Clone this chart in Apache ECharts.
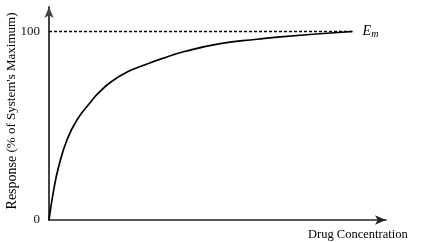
<!DOCTYPE html>
<html>
<head>
<meta charset="utf-8">
<script src="https://cdn.jsdelivr.net/npm/echarts@6/dist/echarts.min.js"></script>
<style>
html,body{margin:0;padding:0;background:#fff;}
#c{width:432px;height:242px;}
</style>
</head>
<body>
<div id="c"></div>
<script>
// Drug concentration (relative units) and response (% of system max)
const concentration = [0, 1.55, 3.2, 5.94, 9.24, 13.6, 16.3, 20.7, 26.2, 31.7, 37.2, 44.9, 56.4, 68.5, 76.2, 100];
const response = [0, 16, 28.4, 42.6, 53.2, 62.3, 67.4, 73.6, 78.9, 82.4, 85.6, 89.5, 93.6, 95.9, 97.2, 100];
const maxLine = [[0, 100], [100, 100]];
const yTickLabels = [0, 100];
const xAxisTitle = 'Drug Concentration';
const yAxisTitleMain = 'Response';
const yAxisTitleSub = "(% of System's Maximum)";

const serif = '"Liberation Serif", "DejaVu Serif", serif';
const chart = echarts.init(document.getElementById('c'), null, {renderer: 'canvas'});
chart.setOption({
  animation: false,
  backgroundColor: '#fff',
  grid: {left: 49, right: 46, top: 7, bottom: 22, containLabel: false},
  xAxis: {
    type: 'value', min: 0, max: 111,
    axisLine: {show: true, lineStyle: {color: '#222', width: 1.6}, symbol: ['none', 'arrow'], symbolSize: [7, 11]},
    axisTick: {show: false}, axisLabel: {show: false}, splitLine: {show: false}
  },
  yAxis: {
    type: 'value', min: 0, max: 113, interval: 100,
    axisLine: {show: true, lineStyle: {color: '#444', width: 2}, symbol: ['none', 'arrow'], symbolSize: [7, 11]},
    axisTick: {show: false}, splitLine: {show: false},
    axisLabel: {
      color: '#111', fontFamily: serif, fontSize: 13, margin: 9,
      formatter: v => yTickLabels.indexOf(v) >= 0 ? String(v) : ''
    }
  },
  series: [
    {
      type: 'line', data: concentration.map((x, i) => [x, response[i]]),
      smooth: 0.5, showSymbol: false, lineStyle: {color: '#000', width: 1.7}, z: 3
    },
    {
      type: 'line', data: maxLine, showSymbol: false,
      lineStyle: {color: '#000', width: 1.4, type: [3, 2]},
      endLabel: {
        show: true, distance: 10, formatter: '{e|E}{m|m}',
        rich: {
          e: {fontFamily: serif, fontStyle: 'italic', fontSize: 14, color: '#000'},
          m: {fontFamily: serif, fontStyle: 'italic', fontSize: 10, color: '#000', verticalAlign: 'bottom', padding: [6, 0, 0, 0]}
        }
      }
    }
  ],
  graphic: [
    {type: 'text', left: 308, top: 228, style: {text: xAxisTitle, font: '12.5px ' + serif, fill: '#000'}},
    {type: 'text', x: 12, y: 111, rotation: Math.PI / 2,
     style: {text: '{a|' + yAxisTitleMain + '} {b|' + yAxisTitleSub + '}', align: 'center', verticalAlign: 'middle',
       rich: {a: {fontFamily: serif, fontSize: 14, color: '#000'}, b: {fontFamily: serif, fontSize: 13, color: '#000'}}}}
  ]
});
</script>
</body>
</html>
